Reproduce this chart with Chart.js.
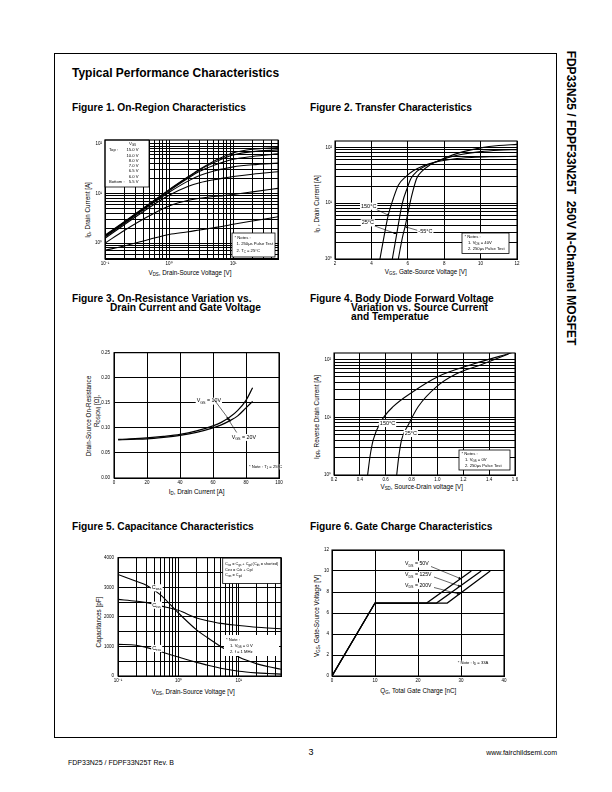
<!DOCTYPE html>
<html><head><meta charset="utf-8">
<script src="https://cdn.jsdelivr.net/npm/chart.js@4.4.1/dist/chart.umd.min.js"></script>
<style>
html,body{margin:0;padding:0;background:#fff;}
#page{position:relative;width:612px;height:792px;overflow:hidden;font-family:"Liberation Sans",Arial,Helvetica,sans-serif;color:#000;}
.t{position:absolute;white-space:nowrap;line-height:1;}
.b{font-weight:bold;}
.c{transform:translate(-50%,-50%);}
.r{transform:translate(-50%,-50%) rotate(-90deg);}
.rr{transform:translate(-50%,-50%) rotate(90deg);}
.ax{font-size:6.3px;}
sub{font-size:0.7em;vertical-align:-0.3em;line-height:0;}
canvas{position:absolute;}
#frame{position:absolute;left:54px;top:53px;width:503px;height:685px;border:1.3px solid #000;box-sizing:border-box;}
</style></head>
<body><div id="page">
<div id="frame"></div>
<div class="t b" style="left:72px;top:67px;font-size:12px;">Typical Performance Characteristics</div>
<div class="t b" style="left:72px;top:103px;font-size:10.2px;">Figure 1. On-Region Characteristics</div>
<div class="t b" style="left:310px;top:103px;font-size:10.2px;">Figure 2. Transfer Characteristics</div>
<div class="t b" style="left:72px;top:294px;font-size:10.2px;">Figure 3. On-Resistance Variation vs.</div>
<div class="t b" style="left:110px;top:303px;font-size:10.2px;">Drain Current and Gate Voltage</div>
<div class="t b" style="left:310px;top:294px;font-size:10.2px;">Figure 4. Body Diode Forward Voltage</div>
<div class="t b" style="left:351px;top:303px;font-size:10.2px;">Variation vs. Source Current</div>
<div class="t b" style="left:351px;top:312px;font-size:10.2px;">and Temperatue</div>
<div class="t b" style="left:72px;top:521.5px;font-size:10.2px;">Figure 5. Capacitance Characteristics</div>
<div class="t b" style="left:310px;top:521.5px;font-size:10.2px;">Figure 6. Gate Charge Characteristics</div>
<div class="t b rr" style="left:571px;top:198px;font-size:12px;">FDP33N25 / FDPF33N25T&nbsp; 250V N-Channel MOSFET</div>

<div class="t ax c" style="left:190px;top:272.7px;">V<sub>DS</sub>, Drain-Source Voltage [V]</div>
<div class="t ax r" style="left:88.3px;top:210px;">I<sub>D</sub>, Drain Current [A]</div>
<div class="t ax c" style="left:425.8px;top:271.7px;">V<sub>GS</sub>, Gate-Source Voltage [V]</div>
<div class="t ax r" style="left:316.7px;top:204px;">I<sub>D</sub> , Drain Current [A]</div>
<div class="t ax c" style="left:196.7px;top:491.7px;">I<sub>D</sub>, Drain Current [A]</div>
<div class="t ax r" style="left:96.7px;top:411px;">R<sub>DS(ON)</sub> [&Omega;],</div>
<div class="t ax r" style="left:89.3px;top:416px;">Drain-Source On-Resistance</div>
<div class="t ax c" style="left:421.7px;top:486.7px;">V<sub>SD</sub>, Source-Drain voltage [V]</div>
<div class="t ax r" style="left:316.7px;top:417px;">I<sub>DR</sub>, Reverse Drain Current [A]</div>
<div class="t ax c" style="left:193.3px;top:691.7px;">V<sub>DS</sub>, Drain-Source Voltage [V]</div>
<div class="t ax r" style="left:99px;top:622px;">Capacitances [pF]</div>
<div class="t ax c" style="left:418.3px;top:690.7px;">Q<sub>G</sub>, Total Gate Charge [nC]</div>
<div class="t ax r" style="left:316.7px;top:616px;">V<sub>GS</sub>, Gate-Source Voltage [V]</div>

<div class="t c" style="left:311px;top:752px;font-size:9px;">3</div>
<div class="t" style="left:68px;top:758.5px;font-size:7px;">FDP33N25 / FDPF33N25T Rev. B</div>
<div class="t" style="right:55px;top:748.5px;font-size:7px;">www.fairchildsemi.com</div>
</div>
<script>
const FONT = '"Liberation Sans", Arial, Helvetica, sans-serif';
const TICK_SIZE = 4.5;

// ---------- Figure 1: On-Region Characteristics ----------
const fig1Vds   = [0.1, 0.2, 0.5, 1, 2, 3, 5, 7, 10, 20, 50];
const fig1Id150 = [1.45, 2.7, 6.3, 12, 22, 31, 45, 55, 66, 78, 85];
const fig1Id100 = [1.42, 2.65, 6.2, 11.7, 21.5, 30, 42, 51, 60, 70, 76];
const fig1Id80  = [1.38, 2.6, 6.0, 11.3, 20.5, 28, 37, 43, 49, 56, 63];
const fig1Id70  = [1.33, 2.5, 5.8, 10.6, 18, 23, 28.5, 31.5, 34.5, 38, 41];
const fig1Id65  = [1.25, 2.35, 5.3, 9.2, 14, 16.5, 19, 20.5, 22, 24.5, 27.5];
const fig1Id60  = [1.0, 1.8, 3.6, 5.6, 7.3, 8.0, 8.7, 9.1, 9.6, 10.8, 12.7];
const fig1Id55  = [0.72, 0.88, 1.2, 1.5, 1.7, 1.85, 2.05, 2.2, 2.4, 2.8, 3.4];
const fig1VgsLabels = ['15.0 V', '10.0 V', '8.0 V', '7.0 V', '6.5 V', '6.0 V', '5.5 V'];

// ---------- Figure 2: Transfer Characteristics ----------
const fig2Vgs150 = [4.47, 4.7, 4.93, 5.2, 5.48, 5.9, 6.3, 6.8, 7.3, 7.8, 8.5, 9.5, 10.5, 12];
const fig2Id150  = [1, 2.6, 6.2, 12, 21, 30, 38, 46, 52, 57, 62, 66, 68, 69];
const fig2Vgs25  = [5.15, 5.39, 5.7, 6.0, 6.18, 6.5, 7.0, 7.6, 8.2, 9, 10, 11, 12];
const fig2Id25   = [1, 2.8, 10, 20, 28, 37, 47, 56, 65, 75, 84, 89, 91];
const fig2VgsM55 = [5.48, 5.7, 5.85, 6.0, 6.2, 6.49, 6.8, 7.2, 7.6, 8.1, 9, 10, 11, 12];
const fig2IdM55  = [1, 2.4, 3.8, 6.5, 13, 28, 38, 48, 56, 66, 83, 98, 108, 113];

// ---------- Figure 3: On-Resistance ----------
const fig3Id   = [2.5, 10, 20, 30, 40, 50, 60, 65, 70, 75, 80, 84];
const fig3R10  = [0.077, 0.078, 0.080, 0.083, 0.087, 0.094, 0.104, 0.111, 0.121, 0.135, 0.155, 0.18];
const fig3R20  = [0.076, 0.077, 0.078, 0.081, 0.085, 0.091, 0.100, 0.106, 0.114, 0.124, 0.140, 0.153];

// ---------- Figure 4: Body Diode ----------
const fig4Vsd150 = [0.46, 0.48, 0.504, 0.564, 0.659, 0.813, 1.007, 1.265, 1.574];
const fig4Idr150 = [1, 2.2, 4.1, 8.5, 15.4, 28, 51, 82, 131];
const fig4Vsd25  = [0.685, 0.7, 0.723, 0.775, 0.852, 0.994, 1.136, 1.342, 1.55];
const fig4Idr25  = [1, 2.0, 4.1, 7.4, 15.4, 34, 55, 82, 125];

// ---------- Figure 5: Capacitance ----------
const fig5Vds  = [0.1, 0.2, 0.3, 0.5, 1, 2, 3, 5, 10, 20, 30, 50];
const fig5Coss = [3435, 3200, 3060, 2750, 2130, 1560, 1300, 1000, 640, 410, 320, 226];
const fig5Ciss = [2590, 2530, 2480, 2370, 2220, 1960, 1870, 1780, 1710, 1650, 1625, 1600];
const fig5Crss = [1070, 1040, 960, 830, 640, 460, 370, 260, 160, 105, 85, 65];

// ---------- Figure 6: Gate Charge ----------
const fig6Qg50  = [0, 10, 22.0, 32.4];
const fig6Qg125 = [0, 10, 24.3, 34.7];
const fig6Qg200 = [0, 10, 26.8, 36.8];
const fig6Vgs   = [0, 6.95, 6.95, 10];

// ---------- helpers ----------
const SUP = {'-':'\u207B','0':'\u2070','1':'\u00B9','2':'\u00B2','3':'\u00B3','4':'\u2074','5':'\u2075','6':'\u2076','7':'\u2077','8':'\u2078','9':'\u2079'};
function powLabel(v){
  const e = Math.log10(v);
  if (Math.abs(e - Math.round(e)) > 1e-6) return '';
  return '10' + String(Math.round(e)).split('').map(c => SUP[c]).join('');
}
function logGrid(min, max){
  const out = [];
  for (let e = Math.floor(Math.log10(min)) - 1; e <= Math.ceil(Math.log10(max)); e++){
    for (let m = 1; m < 10; m++){
      const v = +(m * Math.pow(10, e)).toPrecision(6);
      if (v >= min * 0.9999 && v <= max * 1.0001) out.push(v);
    }
  }
  return out;
}
function axisCfg(a, isX, XH, YW){
  const c = {
    type: a.type, min: a.min, max: a.max, position: isX ? 'bottom' : 'left',
    grid: {color: '#000', lineWidth: 1, drawTicks: false},
    border: {display: true, color: '#000', width: 1},
    ticks: {autoSkip: false, maxRotation: 0, minRotation: 0, padding: isX ? 2 : (a.pad || 3),
            color: '#000', font: {family: FONT, size: TICK_SIZE}, callback: a.fmt},
    afterFit: s => { if (isX) s.height = XH; else s.width = YW; }
  };
  if (a.type === 'logarithmic') {
    c.afterBuildTicks = s => { s.ticks = logGrid(a.min, a.max).map(v => ({value: v})); };
  } else {
    c.ticks.stepSize = a.step;
  }
  return c;
}
function parseRich(s){
  const segs = []; let i = 0, buf = '';
  while (i < s.length){
    if ((s[i] === '_' || s[i] === '^') && s[i+1] === '{'){
      if (buf){ segs.push({t: buf, k: 0}); buf = ''; }
      const j = s.indexOf('}', i);
      segs.push({t: s.slice(i+2, j), k: s[i] === '_' ? -1 : 1});
      i = j + 1;
    } else { buf += s[i]; i++; }
  }
  if (buf) segs.push({t: buf, k: 0});
  return segs;
}
function drawRich(ctx, s, x, y, size, align, bg){
  const segs = parseRich(s);
  let w = 0;
  for (const g of segs){ ctx.font = (g.k ? size*0.7 : size) + 'px ' + FONT; g.w = ctx.measureText(g.t).width; w += g.w; }
  let sx = align === 'center' ? x - w/2 : align === 'right' ? x - w : x;
  if (bg){ ctx.fillStyle = '#fff'; ctx.fillRect(sx - 1, y - size*0.62, w + 2, size*1.3); }
  ctx.fillStyle = '#000'; ctx.textBaseline = 'middle'; ctx.textAlign = 'left';
  for (const g of segs){
    ctx.font = (g.k ? size*0.7 : size) + 'px ' + FONT;
    ctx.fillText(g.t, sx, y + (g.k === -1 ? size*0.3 : g.k === 1 ? -size*0.3 : 0));
    sx += g.w;
  }
}
function decoPlugin(items, ox, oy, n){
  return {
    id: 'deco' + n,
    afterDatasetsDraw(chart){
      const ctx = chart.ctx;
      ctx.save();
      for (const it of items){
        if (it.k === 'box'){
          ctx.fillStyle = '#fff';
          ctx.fillRect(it.x1 - ox, it.y1 - oy, it.x2 - it.x1, it.y2 - it.y1);
          if (it.border !== false){
            ctx.strokeStyle = '#000'; ctx.lineWidth = 0.8;
            ctx.strokeRect(it.x1 - ox, it.y1 - oy, it.x2 - it.x1, it.y2 - it.y1);
          }
        } else if (it.k === 'txt'){
          drawRich(ctx, it.s, it.x - ox, it.y - oy, it.size, it.align || 'left', it.bg);
        } else if (it.k === 'arr'){
          const x1 = it.x1 - ox, y1 = it.y1 - oy, x2 = it.x2 - ox, y2 = it.y2 - oy;
          ctx.strokeStyle = '#000'; ctx.fillStyle = '#000'; ctx.lineWidth = 0.6;
          ctx.beginPath(); ctx.moveTo(x1, y1); ctx.lineTo(x2, y2); ctx.stroke();
          const a = Math.atan2(y2 - y1, x2 - x1), L = 3, W = 1.2;
          ctx.beginPath(); ctx.moveTo(x2, y2);
          ctx.lineTo(x2 - L*Math.cos(a) + W*Math.sin(a), y2 - L*Math.sin(a) - W*Math.cos(a));
          ctx.lineTo(x2 - L*Math.cos(a) - W*Math.sin(a), y2 - L*Math.sin(a) + W*Math.cos(a));
          ctx.closePath(); ctx.fill();
        }
      }
      const ca = chart.chartArea;
      ctx.strokeStyle = '#000'; ctx.lineWidth = 1.1;
      ctx.strokeRect(ca.left, ca.top, ca.right - ca.left, ca.bottom - ca.top);
      ctx.restore();
    }
  };
}
let chartNo = 0;
function build(spec){
  const YW = 26, PT = 6, PR = 10, XH = 14;
  const ox = spec.L - YW, oy = spec.T - PT;
  const W = spec.R - spec.L + YW + PR, H = spec.B - spec.T + PT + XH;
  const cv = document.createElement('canvas');
  cv.width = W; cv.height = H;
  cv.style.left = ox + 'px'; cv.style.top = oy + 'px';
  cv.style.width = W + 'px'; cv.style.height = H + 'px';
  document.getElementById('page').appendChild(cv);
  const ds = spec.series.map(([xs, ys]) => ({
    data: xs.map((x, i) => ({x: x, y: ys[i]})),
    borderColor: '#000', borderWidth: spec.lw || 1.1, pointRadius: 0, fill: false,
    cubicInterpolationMode: spec.smooth ? 'monotone' : 'default', tension: 0
  }));
  new Chart(cv, {
    type: 'line',
    data: {datasets: ds},
    options: {
      responsive: false, animation: false, devicePixelRatio: 1, events: [],
      layout: {padding: {left: 0, top: PT, right: PR, bottom: 0}},
      plugins: {legend: {display: false}, tooltip: {enabled: false}},
      scales: {x: axisCfg(spec.x, true, XH, YW), y: axisCfg(spec.y, false, XH, YW)}
    },
    plugins: [decoPlugin(spec.deco || [], ox, oy, chartNo++)]
  });
}
const T = (s, x, y, size, align, bg) => ({k: 'txt', s, x, y, size, align, bg});

// Figure 1
build({
  L: 105, T: 140, R: 278, B: 259, smooth: true,
  x: {type: 'logarithmic', min: 0.1, max: 50, fmt: powLabel},
  y: {type: 'logarithmic', min: 0.48, max: 120, fmt: powLabel},
  series: [[fig1Vds, fig1Id150], [fig1Vds, fig1Id100], [fig1Vds, fig1Id80], [fig1Vds, fig1Id70],
           [fig1Vds, fig1Id65], [fig1Vds, fig1Id60], [fig1Vds, fig1Id55]],
  deco: [
    {k: 'box', x1: 105, y1: 140, x2: 149, y2: 187},
    T('V_{GS}', 132.5, 144, 4.3, 'center'),
    T('Top :', 109, 150, 4.2),
    T(fig1VgsLabels[0], 138.5, 150, 4.2, 'right'),
    T(fig1VgsLabels[1], 138.5, 156, 4.2, 'right'),
    T(fig1VgsLabels[2], 138.5, 161, 4.2, 'right'),
    T(fig1VgsLabels[3], 138.5, 166, 4.2, 'right'),
    T(fig1VgsLabels[4], 138.5, 171, 4.2, 'right'),
    T(fig1VgsLabels[5], 138.5, 177, 4.2, 'right'),
    T('Bottom :', 109, 182, 4.2),
    T(fig1VgsLabels[6], 138.5, 182, 4.2, 'right'),
    {k: 'box', x1: 232, y1: 233, x2: 275, y2: 257},
    T('* Notes :', 234.5, 238, 4.2),
    T('1. 250\u03BCs Pulse Test', 236.5, 244, 4.2),
    T('2. T_{C} = 25\u00B0C', 236.5, 251, 4.2)
  ]
});

// Figure 2
build({
  L: 335, T: 141, R: 517, B: 259, smooth: true,
  x: {type: 'linear', min: 2, max: 12, step: 2, fmt: v => String(v)},
  y: {type: 'logarithmic', min: 1, max: 130, fmt: powLabel},
  series: [[fig2Vgs150, fig2Id150], [fig2Vgs25, fig2Id25], [fig2VgsM55, fig2IdM55]],
  deco: [
    {k: 'box', x1: 462, y1: 233, x2: 509, y2: 253.5},
    T('* Notes :', 464.5, 236.5, 4.2),
    T('1. V_{DS} = 40V', 468, 243, 4.2),
    T('2. 250\u03BCs Pulse Test', 468, 249, 4.2),
    {k: 'arr', x1: 375.5, y1: 209, x2: 390, y2: 216},
    {k: 'arr', x1: 373.5, y1: 225.5, x2: 396.7, y2: 234},
    {k: 'arr', x1: 418, y1: 230.5, x2: 405, y2: 226.7},
    T('150\u00B0C', 361, 206, 5.5, 'left', true),
    T('25\u00B0C', 361.7, 222.7, 5.5, 'left', true),
    T('-55\u00B0C', 418.3, 231.7, 5.5, 'left', true)
  ]
});

// Figure 3
build({
  L: 114, T: 352, R: 279, B: 478, smooth: true, lw: 1.2,
  x: {type: 'linear', min: 0, max: 100, step: 20, fmt: v => String(v)},
  y: {type: 'linear', min: 0, max: 0.25, step: 0.05, pad: 4, fmt: v => v.toFixed(2)},
  series: [[fig3Id, fig3R10], [fig3Id, fig3R20]],
  deco: [
    T('V_{GS} = 10V', 196.7, 401, 5.3, 'left', true),
    T('V_{GS} = 20V', 231.7, 437.3, 5.3, 'left', true),
    {k: 'arr', x1: 214, y1: 399.5, x2: 230.5, y2: 421.5},
    {k: 'arr', x1: 236.7, y1: 432.5, x2: 226.7, y2: 417},
    T('* Note : T_{J} = 25\u00B0C', 249, 466.7, 4.2, 'left', true)
  ]
});

// Figure 4
build({
  L: 334, T: 353, R: 515, B: 475, smooth: true,
  x: {type: 'linear', min: 0.2, max: 1.6, step: 0.2, fmt: v => v.toFixed(1)},
  y: {type: 'logarithmic', min: 1, max: 130, fmt: powLabel},
  series: [[fig4Vsd150, fig4Idr150], [fig4Vsd25, fig4Idr25]],
  deco: [
    {k: 'box', x1: 459, y1: 450, x2: 510, y2: 470},
    T('* Notes :', 461.5, 454, 4.2),
    T('1. V_{GS} = 0V', 465, 460, 4.2),
    T('2. 250\u03BCs Pulse Test', 465, 466, 4.2),
    T('150\u00B0C', 387.5, 423.3, 5.5, 'center', true),
    T('25\u00B0C', 410.8, 433.3, 5.5, 'center', true)
  ]
});

// Figure 5
build({
  L: 118, T: 557, R: 281, B: 676, smooth: true,
  x: {type: 'logarithmic', min: 0.1, max: 50, fmt: powLabel},
  y: {type: 'linear', min: 0, max: 4000, step: 500, pad: 4, fmt: v => (v % 1000 === 0 ? String(v) : '')},
  series: [[fig5Vds, fig5Coss], [fig5Vds, fig5Ciss], [fig5Vds, fig5Crss]],
  deco: [
    {k: 'box', x1: 222.7, y1: 558, x2: 281, y2: 583.5},
    T('C_{iss} = C_{gs} + C_{gd} (C_{ds} = shorted)', 225, 564, 3.9),
    T('C_{oss} = C_{ds} + C_{gd}', 225, 569.5, 3.9),
    T('C_{rss} = C_{gd}', 225, 575, 3.9),
    {k: 'box', x1: 224, y1: 635, x2: 279, y2: 656, border: false},
    T('* Note :', 226, 640, 4.2),
    T('1. V_{GS} = 0 V', 230, 646, 4.2),
    T('2. f = 1 MHz', 230, 652, 4.2),
    T('C_{oss}', 156.7, 587.7, 5.5, 'center', true),
    T('C_{iss}', 156.7, 605, 5.5, 'center', true),
    T('C_{rss}', 156.7, 648.3, 5.5, 'center', true)
  ]
});

// Figure 6
build({
  L: 332, T: 550, R: 504, B: 676, smooth: false, lw: 1.2,
  x: {type: 'linear', min: 0, max: 40, step: 10, fmt: v => String(v)},
  y: {type: 'linear', min: 0, max: 12, step: 2, fmt: v => String(v)},
  series: [[fig6Qg50, fig6Vgs], [fig6Qg125, fig6Vgs], [fig6Qg200, fig6Vgs]],
  deco: [
    T('V_{DS} = 50V', 405, 564, 5.2, 'left', true),
    T('V_{DS} = 125V', 405, 575, 5.2, 'left', true),
    T('V_{DS} = 200V', 405, 585.7, 5.2, 'left', true),
    {k: 'arr', x1: 431, y1: 566.5, x2: 461.5, y2: 579},
    {k: 'arr', x1: 434, y1: 577, x2: 461, y2: 586.7},
    {k: 'arr', x1: 434, y1: 587.5, x2: 460, y2: 594.3},
    T('* Note : I_{D} = 33A', 457.7, 663.3, 4.2, 'left', true)
  ]
});
</script>
</body></html>
